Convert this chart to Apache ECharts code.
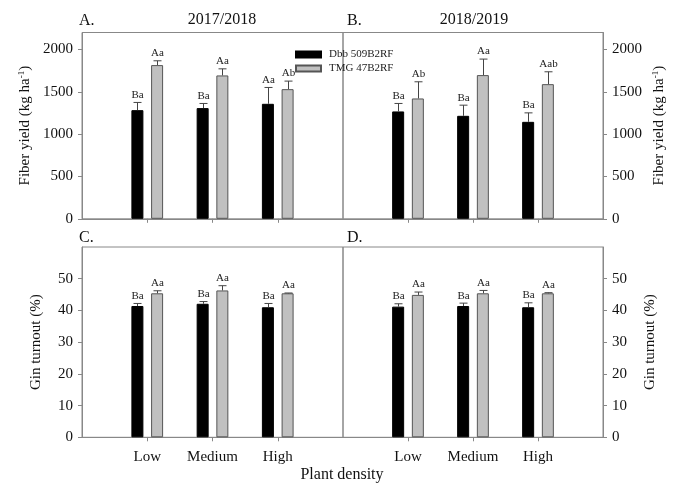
<!DOCTYPE html>
<html>
<head>
<meta charset="utf-8">
<script src="https://cdn.jsdelivr.net/npm/echarts@6/dist/echarts.min.js"></script>
<style>
html,body{margin:0;padding:0;background:#fff;}
#main{width:682px;height:484px;}
</style>
</head>
<body>
<div id="main"></div>
<script>
// categories
var densities = ['Low', 'Medium', 'High'];
var cultivars = ['Dbb 509B2RF', 'TMG 47B2RF'];

// A. fiber yield 2017/2018
var yieldA_dbb = [1283, 1307, 1358];
var yieldA_dbbSe = [91, 55, 193];
var yieldA_dbbLet = ['Ba', 'Ba', 'Aa'];
var yieldA_tmg = [1815, 1693, 1531];
var yieldA_tmgSe = [51, 78, 95];
var yieldA_tmgLet = ['Aa', 'Aa', 'Ab'];

// B. fiber yield 2018/2019
var yieldB_dbb = [1268, 1216, 1145];
var yieldB_dbbSe = [94, 126, 106];
var yieldB_dbbLet = ['Ba', 'Ba', 'Ba'];
var yieldB_tmg = [1421, 1697, 1590];
var yieldB_tmgSe = [197, 189, 146];
var yieldB_tmgLet = ['Ab', 'Aa', 'Aab'];

// C. gin turnout 2017/2018
var ginC_dbb = [41.4, 42.1, 41.0];
var ginC_dbbSe = [0.8, 0.7, 1.2];
var ginC_dbbLet = ['Ba', 'Ba', 'Ba'];
var ginC_tmg = [45.4, 46.3, 45.4];
var ginC_tmgSe = [0.8, 1.5, 0.1];
var ginC_tmgLet = ['Aa', 'Aa', 'Aa'];

// D. gin turnout 2018/2019
var ginD_dbb = [41.2, 41.4, 41.0];
var ginD_dbbSe = [0.9, 0.9, 1.4];
var ginD_dbbLet = ['Ba', 'Ba', 'Ba'];
var ginD_tmg = [44.9, 45.4, 45.4];
var ginD_tmgSe = [0.9, 0.9, 0.2];
var ginD_tmgLet = ['Aa', 'Aa', 'Aa'];

var FONT = 'Liberation Serif';
var AXC = '#888';

var panels = [
    {grid: {left: 82, top: 32.5, width: 261, height: 186.3}, right: false, max: 2200, step: 500, gap: 48,
     name: 'Fiber yield (kg ha{s|-1})', xl: false,
     s: [[yieldA_dbb, yieldA_dbbSe, yieldA_dbbLet], [yieldA_tmg, yieldA_tmgSe, yieldA_tmgLet]]},
    {grid: {left: 343, top: 32.5, width: 260, height: 186.3}, right: true, max: 2200, step: 500, gap: 48,
     name: 'Fiber yield (kg ha{s|-1})', xl: false,
     s: [[yieldB_dbb, yieldB_dbbSe, yieldB_dbbLet], [yieldB_tmg, yieldB_tmgSe, yieldB_tmgLet]]},
    {grid: {left: 82, top: 247, width: 261, height: 190.3}, right: false, max: 60, step: 10, gap: 38,
     name: 'Gin turnout (%)', xl: true,
     s: [[ginC_dbb, ginC_dbbSe, ginC_dbbLet], [ginC_tmg, ginC_tmgSe, ginC_tmgLet]]},
    {grid: {left: 343, top: 247, width: 260, height: 190.3}, right: true, max: 60, step: 10, gap: 40,
     name: 'Gin turnout (%)', xl: true,
     s: [[ginD_dbb, ginD_dbbSe, ginD_dbbLet], [ginD_tmg, ginD_tmgSe, ginD_tmgLet]]}
];

var slots = [''].concat(densities, ['']);
var barW = 12;
var barGapPx = 7.7;
var barStyles = [
    {color: '#000', borderColor: '#000', borderWidth: 1},
    {color: '#c0c0c0', borderColor: '#555', borderWidth: 1}
];

function errRender(offset, letters) {
    return function (params, api) {
        var c = api.value(0), m = api.value(1), e = api.value(2);
        var base = api.coord([c, m]);
        var top = api.coord([c, m + e]);
        var x = Math.round(base[0] + offset) + 0.5;
        return {
            type: 'group',
            children: [
                {type: 'line', shape: {x1: x, y1: base[1], x2: x, y2: top[1]}, style: {stroke: '#444', lineWidth: 1}},
                {type: 'line', shape: {x1: x - 4, y1: top[1], x2: x + 4, y2: top[1]}, style: {stroke: '#444', lineWidth: 1}},
                {type: 'text', x: x, y: top[1] - 2, style: {text: letters[params.dataIndex], fill: '#222',
                    font: '11px "' + FONT + '"', align: 'center', verticalAlign: 'bottom'}}
            ]
        };
    };
}

var grids = [], xAxes = [], yAxes = [], series = [];
panels.forEach(function (p, i) {
    grids.push(Object.assign({show: true, borderColor: AXC, borderWidth: 1, backgroundColor: 'transparent'}, p.grid));
    xAxes.push({
        type: 'category', gridIndex: i, data: slots, boundaryGap: false,
        axisLine: {show: true, lineStyle: {color: AXC}},
        axisTick: {show: true, length: 4, lineStyle: {color: AXC},
            interval: function (idx) { return idx > 0 && idx < slots.length - 1; }},
        axisLabel: {show: p.xl, interval: 0, margin: 12, fontFamily: FONT, fontSize: 15, color: '#111'},
        splitLine: {show: false}
    });
    yAxes.push({
        type: 'value', gridIndex: i, position: p.right ? 'right' : 'left',
        min: 0, max: p.max, interval: p.step,
        axisLine: {show: true, lineStyle: {color: AXC}},
        axisTick: {show: true, length: 4, lineStyle: {color: AXC}},
        axisLabel: {showMaxLabel: false, margin: 9, fontFamily: FONT, fontSize: 15, color: '#111',
            formatter: function (v) { return String(v); }},
        splitLine: {show: false},
        name: p.name, nameLocation: 'middle', nameRotate: 90, nameGap: p.gap,
        nameTextStyle: {fontFamily: FONT, fontSize: 15, color: '#111',
            rich: {s: {fontFamily: FONT, fontSize: 9, color: '#111', verticalAlign: 'top', padding: [0, 0, 8, 0]}}}
    });
    p.s.forEach(function (d, k) {
        series.push({
            type: 'bar', name: cultivars[k], xAxisIndex: i, yAxisIndex: i,
            barWidth: barW, barGap: (barGapPx / barW * 100) + '%',
            itemStyle: barStyles[k], silent: true,
            data: d[0].map(function (v, j) { return [j + 1, v]; })
        });
        var off = (k === 0 ? -1 : 1) * (barW + barGapPx) / 2;
        series.push({
            type: 'custom', xAxisIndex: i, yAxisIndex: i, z: 5, silent: true, clip: false,
            renderItem: errRender(off, d[2]),
            data: d[0].map(function (v, j) { return [j + 1, v, d[1][j]]; })
        });
    });
});

function txt(x, y, s, align, size) {
    return {type: 'text', x: x, y: y, style: {text: s, fill: '#111', font: size + 'px "' + FONT + '"',
        align: align, verticalAlign: 'middle'}};
}

var myChart = echarts.init(document.getElementById('main'));
var option = {
    backgroundColor: '#fff',
    animation: false,
    grid: grids,
    xAxis: xAxes,
    yAxis: yAxes,
    legend: {
        data: cultivars, orient: 'vertical', left: 295, top: 49, padding: 0,
        itemWidth: 25, itemHeight: 6, itemGap: 3, icon: 'rect',
        textStyle: {fontFamily: FONT, fontSize: 11, color: '#222', padding: [0, 0, 0, 3]}
    },
    graphic: [
        txt(79, 21, 'A.', 'left', 16),
        txt(222, 20, '2017/2018', 'center', 16),
        txt(347, 21, 'B.', 'left', 16),
        txt(474, 20, '2018/2019', 'center', 16),
        txt(79, 238, 'C.', 'left', 16),
        txt(347, 238, 'D.', 'left', 16),
        txt(342, 475, 'Plant density', 'center', 16)
    ],
    series: series
};
myChart.setOption(option);
</script>
</body>
</html>
